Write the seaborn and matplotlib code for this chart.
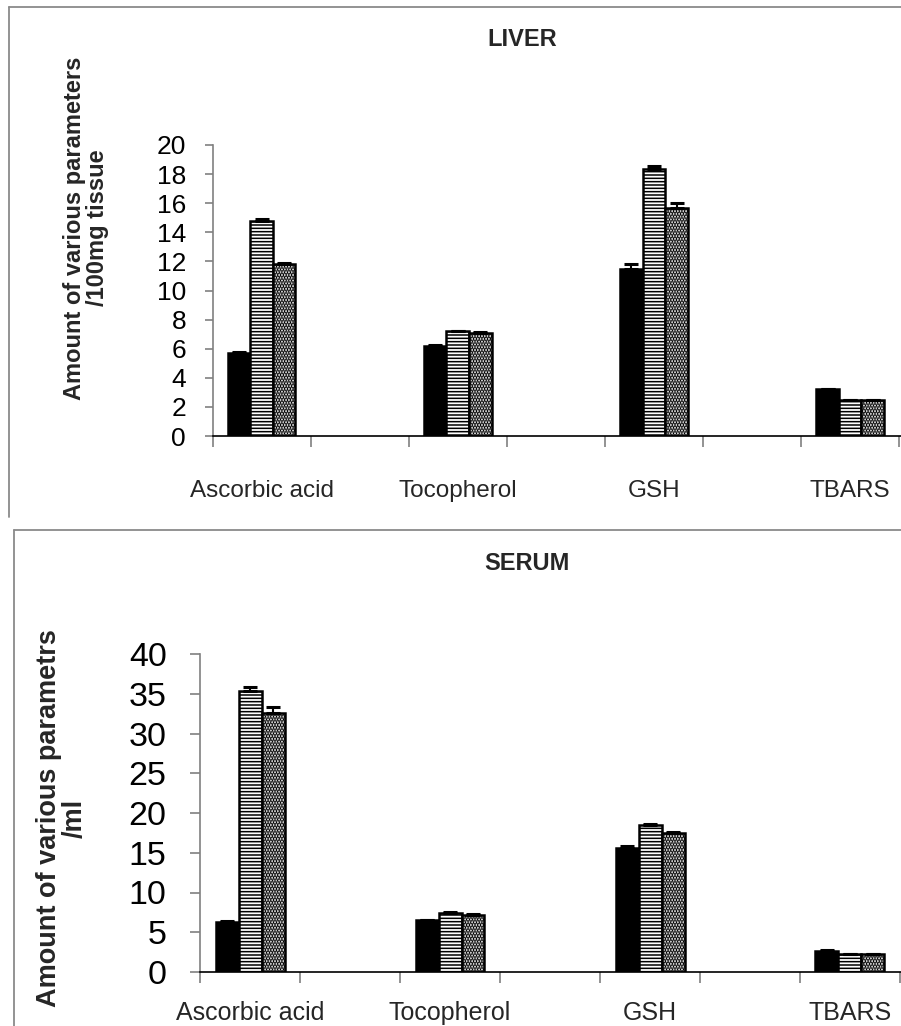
import numpy as np
import pandas as pd
import matplotlib
matplotlib.use("Agg")
import matplotlib.pyplot as plt
from matplotlib.lines import Line2D
import seaborn as sns

# ---------------- data ----------------
categories = ["Ascorbic acid", "Tocopherol", "GSH", "TBARS"]
groups = ["Group I", "Group II", "Group III"]

liver_g1 = [5.7, 6.2, 11.5, 3.2]
liver_g2 = [14.8, 7.2, 18.35, 2.45]
liver_g3 = [11.8, 7.1, 15.7, 2.45]
liver_err_g1 = [0.05, 0.05, 0.35, 0.05]
liver_err_g2 = [0.1, 0.05, 0.2, 0.05]
liver_err_g3 = [0.1, 0.05, 0.3, 0.05]

serum_g1 = [6.3, 6.5, 15.6, 2.7]
serum_g2 = [35.35, 7.4, 18.5, 2.25]
serum_g3 = [32.6, 7.2, 17.5, 2.25]
serum_err_g1 = [0.1, 0.1, 0.3, 0.1]
serum_err_g2 = [0.45, 0.1, 0.15, 0.05]
serum_err_g3 = [0.7, 0.1, 0.1, 0.05]

liver_yticks = list(range(0, 21, 2))
serum_yticks = list(range(0, 41, 5))

# ---------------- style ----------------
sns.set_theme(style="white")
plt.rcParams["font.family"] = ["Liberation Sans", "DejaVu Sans"]
plt.rcParams["hatch.linewidth"] = 1.1

W, H = 901, 1026
fig = plt.figure(figsize=(W / 100, H / 100), dpi=100)

# category order with blank spacer slots (Excel-like spacing)
order = ["Ascorbic acid", " ", "Tocopherol", "  ", "GSH", "   ", "TBARS", "    "]
hatches = [None, "-----", "......"]
hatch_lw = [1.1, 1.1, 1.8]
palette = ["black", "white", "white"]


def make_df(g1, g2, g3):
    rows = []
    for gname, vals in zip(groups, [g1, g2, g3]):
        for c, v in zip(categories, vals):
            rows.append({"category": c, "group": gname, "value": v})
    return pd.DataFrame(rows)


def panel(rect_px, vals, errs, yticks, ylim, ytick_fs, ypad, ytick_len, xlab_fs, xpad):
    left, top, right, bottom = rect_px
    ax = fig.add_axes([left / W, 1 - bottom / H, (right - left) / W, (bottom - top) / H])
    df = make_df(*vals)
    sns.barplot(data=df, x="category", y="value", hue="group", order=order,
                hue_order=groups, palette=palette, width=0.69, dodge=True,
                errorbar=None, edgecolor="black", linewidth=1.8, legend=False, ax=ax)
    patches = [p for p in ax.patches]
    for k in range(3):
        bars = patches[k * 4:(k + 1) * 4]
        xs, hs = [], []
        for b in bars:
            if hatches[k]:
                b.set_hatch(hatches[k])
                if hasattr(b, "set_hatch_linewidth"):
                    b.set_hatch_linewidth(hatch_lw[k])
            xs.append(b.get_x() + b.get_width() / 2)
            hs.append(b.get_height())
        ax.errorbar(xs, hs, yerr=[np.zeros(4), errs[k]], fmt="none", ecolor="black",
                    elinewidth=1.5, capsize=4.7, capthick=2.2, zorder=5)
    ax.set_xlim(-0.5, 7.5)
    ax.set_ylim(*ylim)
    ax.set_yticks(yticks)
    ax.set_yticklabels([str(t) for t in yticks], fontsize=ytick_fs)
    ax.tick_params(axis="y", direction="out", length=ytick_len, width=1.2, color="#808080",
                   pad=ypad, left=True, labelcolor="black")
    ax.set_xticks(np.arange(-0.5, 7.6, 1.0))
    ax.set_xticklabels([])
    ax.set_xticks([0, 2, 4, 6], minor=True)
    ax.set_xticklabels(categories, minor=True, fontsize=xlab_fs)
    ax.tick_params(axis="x", which="major", direction="out", length=8, width=1.2,
                   color="#808080", bottom=True)
    ax.tick_params(axis="x", which="minor", length=0, pad=xpad, bottom=True)
    ax.set_xlabel("")
    ax.set_ylabel("")
    for s in ["top", "right"]:
        ax.spines[s].set_visible(False)
    ax.spines["left"].set_color("#808080")
    ax.spines["left"].set_linewidth(1.2)
    ax.spines["bottom"].set_color("black")
    ax.spines["bottom"].set_linewidth(1.2)
    ax.set_facecolor("none")
    return ax


# outer frames (chart area borders)
fig.add_artist(Line2D([9 / W, 9 / W], [1 - 7 / H, 1 - 517 / H], color="#8a8a8a", lw=1.3))
fig.add_artist(Line2D([9 / W, 1.0], [1 - 7 / H, 1 - 7 / H], color="#8a8a8a", lw=1.3))
fig.add_artist(Line2D([14 / W, 14 / W], [1 - 530 / H, 0], color="#8a8a8a", lw=1.3))
fig.add_artist(Line2D([14 / W, 1.0], [1 - 530 / H, 1 - 530 / H], color="#8a8a8a", lw=1.3))

ax1 = panel((212.5, 145, 212.5 + 8 * 98.1, 436),
            (liver_g1, liver_g2, liver_g3), (liver_err_g1, liver_err_g2, liver_err_g3),
            liver_yticks, (0, 20), 19, 13, 6, 17.5, 32)
ax2 = panel((200, 654, 1000, 972),
            (serum_g1, serum_g2, serum_g3), (serum_err_g1, serum_err_g2, serum_err_g3),
            serum_yticks, (0, 40), 24.5, 17, 7, 18, 21)

# titles
fig.text(522 / W, 1 - 39 / H, "LIVER", fontsize=17, fontweight="bold", ha="center", va="center")
fig.text(527 / W, 1 - 563 / H, "SERUM", fontsize=17, fontweight="bold", ha="center", va="center")

# y-axis labels
fig.text(86 / W, 1 - 228 / H, "Amount of various parameters\n/100mg tissue", rotation=90,
         fontsize=17, fontweight="bold", ha="center", va="center", multialignment="center",
         linespacing=0.95)
fig.text(62 / W, 1 - 818 / H, "Amount of various parametrs\n/ml", rotation=90,
         fontsize=19.5, fontweight="bold", ha="center", va="center", multialignment="center",
         linespacing=0.95)

fig.savefig("out.png", dpi=100)
